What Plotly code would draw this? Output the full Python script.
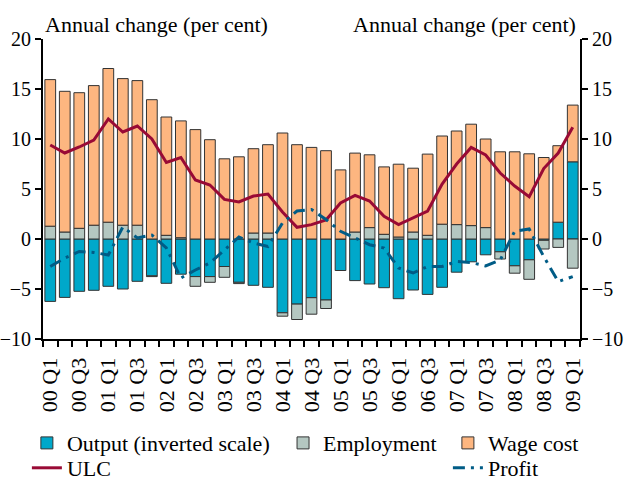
import plotly.graph_objects as go

quarters = ["00 Q1", "00 Q2", "00 Q3", "00 Q4", "01 Q1", "01 Q2", "01 Q3", "01 Q4",
            "02 Q1", "02 Q2", "02 Q3", "02 Q4", "03 Q1", "03 Q2", "03 Q3", "03 Q4",
            "04 Q1", "04 Q2", "04 Q3", "04 Q4", "05 Q1", "05 Q2", "05 Q3", "05 Q4",
            "06 Q1", "06 Q2", "06 Q3", "06 Q4", "07 Q1", "07 Q2", "07 Q3", "07 Q4",
            "08 Q1", "08 Q2", "08 Q3", "08 Q4", "09 Q1"]
tick_labels = ["00 Q1", "00 Q3", "01 Q1", "01 Q3", "02 Q1", "02 Q3", "03 Q1", "03 Q3",
               "04 Q1", "04 Q3", "05 Q1", "05 Q3", "06 Q1", "06 Q3", "07 Q1", "07 Q3",
               "08 Q1", "08 Q3", "09 Q1"]

output = [-6.24, -5.84, -5.23, -5.13, -4.73, -5.0, -4.23, -3.69, -4.43, -3.52, -3.76, -3.76,
          -2.75, -4.33, -4.63, -4.83, -7.38, -6.51, -5.87, -6.1, -3.15, -4.16, -4.5, -4.87,
          -5.97, -5.1, -5.54, -4.83, -3.32, -2.28, -1.58, -1.28, -2.68, -2.08, -0.13, 1.68, 7.72]
employment = [1.28, 0.70, 1.07, 1.38, 1.68, 1.38, 1.38, -0.07, 0.37, 0.13, -0.97, -0.57,
              -1.08, -0.13, 0.6, 0.6, -0.34, -1.54, -1.65, -0.85, 0.0, 0.7, 1.14, 0.47,
              0.2, 0.7, 0.37, 1.48, 1.44, 1.34, 1.14, -0.72, -0.74, -1.95, -0.87, -0.84, -2.92]
wage_cost = [14.66, 14.07, 13.56, 13.96, 15.37, 14.66, 14.46, 13.93, 11.83, 11.68, 10.94, 9.93,
             8.02, 8.22, 8.43, 8.83, 10.6, 9.43, 9.16, 8.83, 6.91, 7.89, 7.28, 6.74,
             7.28, 6.38, 8.12, 8.82, 9.36, 10.14, 8.86, 8.72, 8.72, 8.52, 8.15, 7.65, 5.67]
ulc = [9.4, 8.6, 9.2, 9.9, 12.0, 10.7, 11.3, 10.0, 7.65, 8.15, 5.9, 5.4,
       3.96, 3.7, 4.3, 4.5, 2.7, 1.17, 1.44, 1.9, 3.6, 4.36, 3.8, 2.28,
       1.44, 2.1, 2.8, 5.5, 7.5, 9.16, 8.4, 6.6, 5.3, 4.23, 7.05, 8.6, 11.17]
profit = [-2.75, -1.9, -1.25, -1.35, -1.6, 1.2, 0.1, 0.4, -0.9, -3.9, -3.1, -2.4,
          -1.1, 0.2, -0.4, -0.75, 1.6, 2.8, 2.95, 1.95, 0.77, 0.1, -0.57, -0.9,
          -2.9, -3.4, -2.75, -2.75, -2.25, -2.35, -2.7, -2.1, 0.77, 1.0, -1.75, -4.26, -3.76]

x = list(range(len(quarters)))
FONT = "Liberation Serif"
outline = dict(color="#333333", width=1)

fig = go.Figure()
fig.add_trace(go.Bar(x=x, y=output, name="Output (inverted scale)",
                     marker=dict(color="#00A8CA", line=outline), legend="legend"))
fig.add_trace(go.Bar(x=x, y=employment, name="Employment",
                     marker=dict(color="#B4C7C1", line=outline), legend="legend2"))
fig.add_trace(go.Bar(x=x, y=wage_cost, name="Wage cost",
                     marker=dict(color="#FDB680", line=outline), legend="legend3"))
fig.add_trace(go.Scatter(x=x, y=ulc, name="ULC", mode="lines",
                         line=dict(color="#990A35", width=3), legend="legend4"))
fig.add_trace(go.Scatter(x=x, y=profit, name="Profit", mode="lines", yaxis="y2",
                         line=dict(color="#005C86", width=3, dash="12px,6px,3px,6px"),
                         legend="legend5"))

axis_common = dict(range=[-10, 20], dtick=5, tick0=0, ticks="outside", ticklen=6, tickwidth=2,
                   tickcolor="black", showline=True, linecolor="black", linewidth=2,
                   showgrid=False, zeroline=False, automargin=False,
                   tickfont=dict(family=FONT, size=20, color="black"))

leg_font = dict(family=FONT, size=22, color="black")


def leg(xp, yp):
    return dict(x=xp, y=yp, xanchor="left", yanchor="top", orientation="v",
                font=leg_font, bgcolor="rgba(0,0,0,0)", borderwidth=0)


row1, row2 = -0.277, -0.360
fig.update_layout(
    width=625, height=480,
    showlegend=True,
    margin=dict(l=43, r=45, t=39, b=141, autoexpand=False),
    paper_bgcolor="white", plot_bgcolor="white",
    barmode="relative", bargap=0.26,
    font=dict(family=FONT, size=22, color="black"),
    xaxis=dict(range=[-0.5, len(quarters) - 0.5],
               tickmode="array", tickvals=[quarters.index(t) for t in tick_labels],
               ticktext=tick_labels, tickangle=-90, ticks="", ticklabelstandoff=8,
               showline=True, linecolor="black", linewidth=2, showgrid=False, zeroline=False,
               automargin=False,
               tickfont=dict(family=FONT, size=22, color="black"),
               minor=dict(tickmode="array", tickvals=[i - 0.5 for i in range(len(quarters) + 1)],
                          ticks="outside", ticklen=6, tickwidth=2, tickcolor="black", showgrid=False)),
    yaxis=dict(**axis_common),
    yaxis2=dict(**axis_common, overlaying="y", side="right", anchor="x"),
    legend=leg(-0.030, row1),
    legend2=leg(0.447, row1),
    legend3=leg(0.754, row1),
    legend4=leg(-0.030, row2),
    legend5=leg(0.754, row2),
    annotations=[
        dict(text="Annual change (per cent)", x=0, y=1, xref="paper", yref="paper",
             xanchor="left", yanchor="bottom", showarrow=False, font=dict(family=FONT, size=22)),
        dict(text="Annual change (per cent)", x=1, y=1, xref="paper", yref="paper",
             xanchor="right", yanchor="bottom", showarrow=False, xshift=-2,
             font=dict(family=FONT, size=22)),
    ],
)

fig.write_html("out.html", config={"displayModeBar": False},
               post_script="document.body.style.margin='0';")
